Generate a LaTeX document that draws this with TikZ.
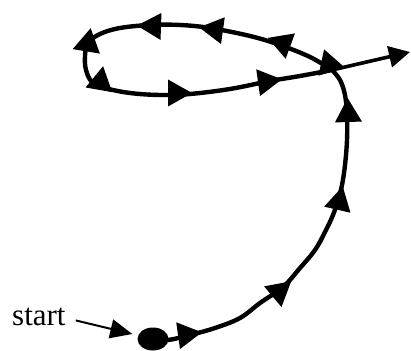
\documentclass[tikz,border=0pt]{standalone}
\usepackage{fontspec}
\setmainfont{Liberation Serif}
\usetikzlibrary{arrows.meta,shapes.geometric}

\begin{document}
\begin{tikzpicture}[x=1pt, y=1pt,
    track/.style={line width=4.4pt, line cap=round, line join=round},
    pointer/.style={line width=2pt, -{Triangle[length=22pt, width=19pt]}},
    exit/.style={line width=3.6pt, -{Triangle[length=21pt, width=21pt]}},
    headtri/.pic={\fill (12,0) -- (-12,13.5) -- (-12,-13.5) -- cycle;}]
  \useasboundingbox (0,0) rectangle (411,350);
  % the path: up the spiral, then round the loop
  \coordinate (junction) at (332,280);
  \coordinate (exitend) at (410,298);
  \draw[track] plot[smooth, tension=0.6] coordinates {(153,11) (168,10) (190,15) (215,22) (240,32) (260,47) (283,63) (300,82) (315,100) (325,118) (333,135) (338,150) (342,165) (345,185) (347,210) (347,235) (345,255) (340,270) (332,280)};
  \draw[track] plot[smooth, tension=0.6] coordinates {(332,280) (310,293) (280,305) (250,314) (210,322) (180,325) (150,325) (120,322) (100,316) (88,307) (85,294) (86,280) (92,268) (105,262) (130,257) (160,255) (190,256) (230,261) (270,269) (300,274) (332,280)};
  \draw[exit] (junction) -- (exitend);
  % arrowheads along the path
  \pic[rotate=8] at (190,16) {headtri};
  \pic[rotate=40] at (282,61) {headtri};
  \pic[rotate=77] at (340,152) {headtri};
  \pic[rotate=92] at (348,240) {headtri};
  \pic[rotate=-12] at (333,285) {headtri};
  \pic[rotate=160] at (279,308) {headtri};
  \pic[rotate=172] at (211,321) {headtri};
  \pic[rotate=178] at (149,324) {headtri};
  \pic[rotate=200] at (84,305) {headtri};
  \pic[rotate=80] at (101,272) {headtri};
  \pic[rotate=0] at (180,257) {headtri};
  \pic[rotate=8] at (270,269) {headtri};
  % start
  \node[ellipse, fill=black, minimum width=31pt, minimum height=23pt, inner sep=0pt] (dot) at (153,11) {};
  \node[anchor=base west, inner sep=0pt, font=\fontsize{31}{37}\selectfont] (startlbl) at (12,25) {start};
  \draw[pointer] ([xshift=10pt,yshift=-4pt]startlbl.east) -- ([xshift=-5pt,yshift=5pt]dot.west);
\end{tikzpicture}
\end{document}
